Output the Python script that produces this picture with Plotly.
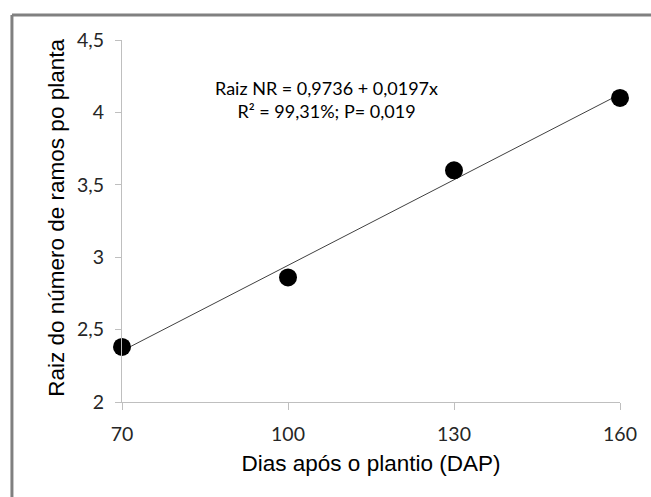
import plotly.graph_objects as go

dias = [70, 100, 130, 160]
raiz_nr = [2.38, 2.86, 3.60, 4.10]
intercepto = 0.9736
inclinacao = 0.0197
x_ticks = [70, 100, 130, 160]
y_ticks = [2, 2.5, 3, 3.5, 4, 4.5]
y_tick_labels = ["2", "2,5", "3", "3,5", "4", "4,5"]

linha_x = [dias[0], dias[-1]]
linha_y = [intercepto + inclinacao * v for v in linha_x]

fig = go.Figure()
fig.add_trace(go.Scatter(x=linha_x, y=linha_y, mode="lines",
                         line=dict(color="#404040", width=1), showlegend=False,
                         cliponaxis=False))
fig.add_trace(go.Scatter(x=dias, y=raiz_nr, mode="markers",
                         marker=dict(color="black", size=18), showlegend=False,
                         cliponaxis=False))

tickfont = dict(family="Lato, Open Sans, sans-serif", size=19.5, color="#262626")
titlefont = dict(family="Liberation Sans, Arial, sans-serif", size=22.5, color="black")

fig.update_layout(
    width=651, height=497,
    margin=dict(l=122, r=31, t=40, b=95),
    paper_bgcolor="white", plot_bgcolor="white",
    xaxis=dict(range=[70, 160], tickvals=x_ticks, showgrid=False, zeroline=False,
               showline=True, linecolor="#BFBFBF", linewidth=1,
               ticks="outside", ticklen=7, tickcolor="#BFBFBF",
               tickfont=tickfont, ticklabelstandoff=8,
               title=dict(text="Dias após o plantio (DAP)", font=titlefont, standoff=10)),
    yaxis=dict(range=[2, 4.5], tickvals=y_ticks, ticktext=y_tick_labels,
               showgrid=False, zeroline=False,
               showline=True, linecolor="#BFBFBF", linewidth=1,
               ticks="outside", ticklen=6, tickcolor="#BFBFBF",
               tickfont=tickfont, ticklabelstandoff=7),
    annotations=[
        dict(x=0.41, y=0.903, xref="paper", yref="paper", showarrow=False,
             text="Raiz NR = 0,9736 + 0,0197x<br>R² = 99,31%; P= 0,019",
             font=dict(family="Lato, Open Sans, sans-serif", size=18, color="black"),
             align="center"),
        dict(x=-0.1305, y=0.509, xref="paper", yref="paper", showarrow=False,
             text="Raiz do número de ramos po planta", textangle=-90,
             font=titlefont, xanchor="center", yanchor="middle"),
    ],
    shapes=[
        dict(type="line", xref="paper", yref="paper", x0=-0.221, x1=1.1, y0=1.069, y1=1.069,
             line=dict(color="#808080", width=3)),
        dict(type="line", xref="paper", yref="paper", x0=-0.221, x1=-0.221, y0=-0.3, y1=1.069,
             line=dict(color="#808080", width=3)),
    ],
)

fig.write_html("out.html", config={"displayModeBar": False},
               post_script="document.body.style.margin='0';document.body.style.overflow='hidden';")
